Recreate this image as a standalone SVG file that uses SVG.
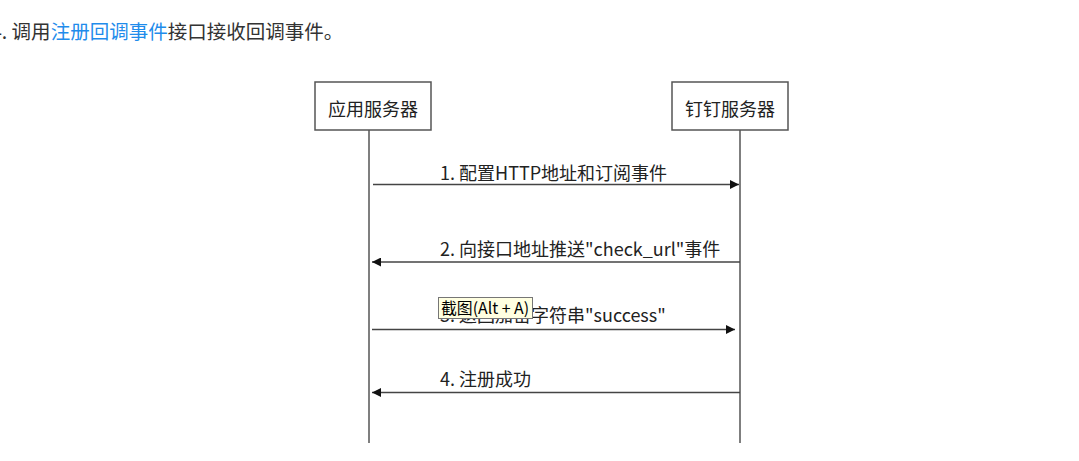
<svg xmlns="http://www.w3.org/2000/svg" width="1079" height="461" viewBox="0 0 1079 461">
  <style>
    .hdr { font-family: "Noto Sans CJK SC", "Noto Sans", sans-serif; font-size: 19.5px; fill: #333333; }
    .link { fill: #1f8ceb; }
    .box { fill: #ffffff; stroke: #555555; stroke-width: 1.5; }
    .life { stroke: #555555; stroke-width: 1.5; fill: none; }
    .msg { stroke: #444444; stroke-width: 1.3; fill: none; }
    .lbl { font-family: "Noto Sans CJK SC", "Noto Sans", sans-serif; font-size: 18px; fill: #222222; }
    .tip { fill: #ffffe1; stroke: #767676; stroke-width: 1; }
    .tiptxt { font-family: "Noto Sans CJK SC", "Noto Sans", sans-serif; font-size: 16px; fill: #000000; }
  </style>
  <defs>
    <marker id="ah" markerUnits="userSpaceOnUse" markerWidth="10" markerHeight="9" refX="9" refY="4.5" orient="auto">
      <path d="M0,0 L9,4.5 L0,9 Z" fill="#111111"/>
    </marker>
  </defs>
  <rect width="1079" height="461" fill="#ffffff"/>

  <text class="hdr" x="-9" y="39">4. 调用<tspan class="link">注册回调事件</tspan>接口接收回调事件。</text>

  <g id="node-app">
    <rect class="box" x="315" y="82" width="116" height="48"/>
    <text class="lbl" x="373" y="116" text-anchor="middle">应用服务器</text>
    <line class="life" x1="369" y1="130" x2="369" y2="443"/>
  </g>
  <g id="node-dingtalk">
    <rect class="box" x="672" y="82" width="116" height="48"/>
    <text class="lbl" x="730" y="116" text-anchor="middle">钉钉服务器</text>
    <line class="life" x1="740" y1="130" x2="740" y2="443"/>
  </g>

  <g id="connectors">
    <line class="msg" x1="373" y1="184.5" x2="739" y2="184.5" marker-end="url(#ah)"/>
    <text class="lbl" x="440" y="180">1. 配置HTTP地址和订阅事件</text>
    <line class="msg" x1="740" y1="262" x2="372" y2="262" marker-end="url(#ah)"/>
    <text class="lbl" x="440" y="256">2. 向接口地址推送"check_url"事件</text>
    <line class="msg" x1="372" y1="329.5" x2="735" y2="329.5" marker-end="url(#ah)"/>
    <text class="lbl" x="440" y="322">3. 返回加密字符串"success"</text>
    <line class="msg" x1="740" y1="392.5" x2="372" y2="392.5" marker-end="url(#ah)"/>
    <text class="lbl" x="440" y="386">4. 注册成功</text>
  </g>

  <g id="tooltip">
    <rect class="tip" x="438.5" y="297.5" width="94" height="21"/>
    <text class="tiptxt" x="441" y="313.5" textLength="88" lengthAdjust="spacingAndGlyphs">截图(Alt + A)</text>
  </g>
</svg>
